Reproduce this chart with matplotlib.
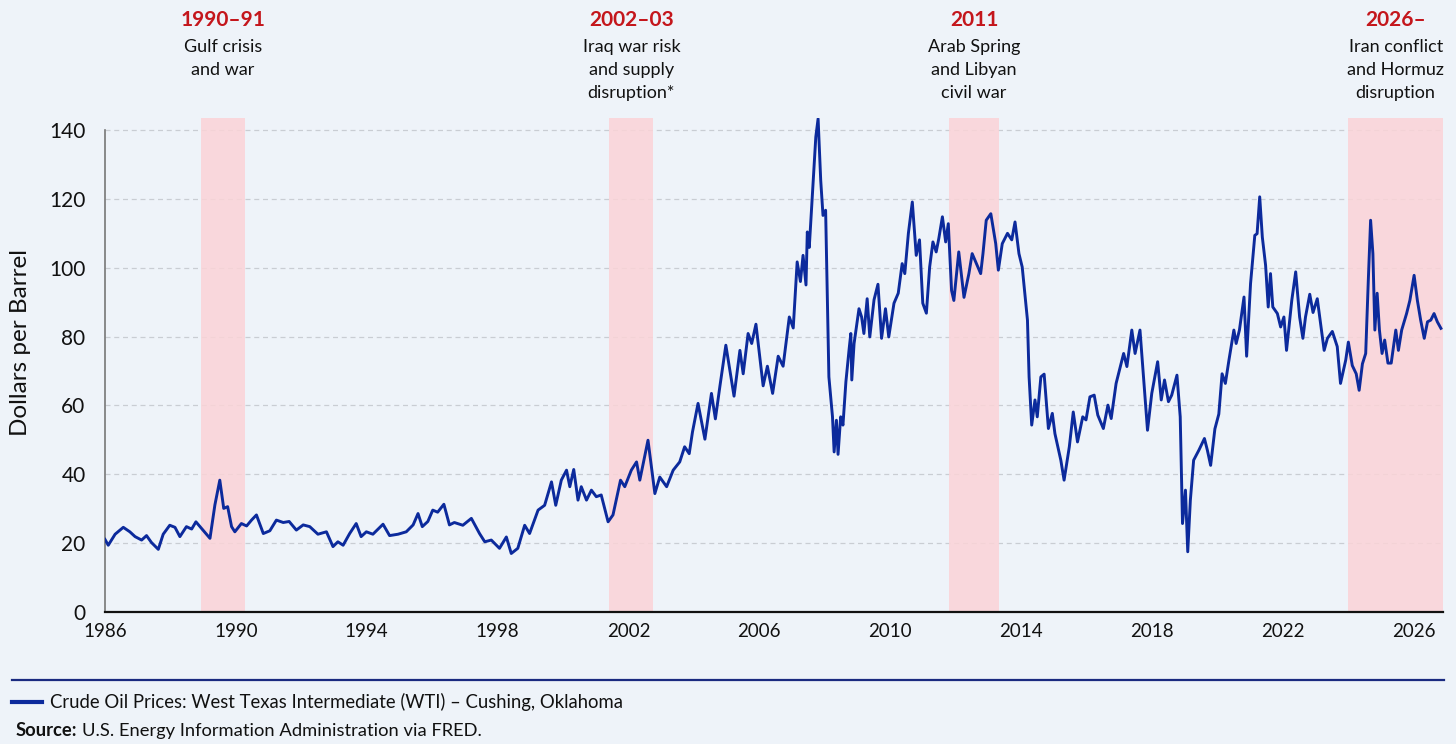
import matplotlib
matplotlib.use("Agg")
import matplotlib.pyplot as plt
from matplotlib.lines import Line2D
from matplotlib.transforms import blended_transform_factory

# WTI price (x = position on the chart's year axis, y = $/barrel)
years = [
    1986.00, 1986.10, 1986.31, 1986.56, 1986.76, 1986.92, 1987.12, 1987.27, 1987.42, 1987.63,
    1987.78, 1987.98, 1988.14, 1988.29, 1988.49, 1988.65, 1988.78, 1988.95, 1989.21, 1989.36,
    1989.51, 1989.63, 1989.75, 1989.87, 1989.97, 1990.17, 1990.33, 1990.48, 1990.63, 1990.84,
    1991.04, 1991.24, 1991.45, 1991.63, 1991.85, 1992.06, 1992.26, 1992.51, 1992.77, 1992.97,
    1993.12, 1993.28, 1993.48, 1993.68, 1993.83, 1993.99, 1994.19, 1994.50, 1994.70, 1994.96,
    1995.21, 1995.42, 1995.57, 1995.70, 1995.87, 1996.02, 1996.17, 1996.36, 1996.53, 1996.68,
    1996.94, 1997.20, 1997.45, 1997.61, 1997.81, 1998.06, 1998.27, 1998.42, 1998.62, 1998.83,
    1998.98, 1999.24, 1999.44, 1999.65, 1999.78, 1999.95, 2000.11, 2000.21, 2000.33, 2000.46,
    2000.56, 2000.72, 2000.87, 2001.02, 2001.17, 2001.38, 2001.53, 2001.76, 2001.89, 2002.09,
    2002.25, 2002.35, 2002.60, 2002.81, 2002.96, 2003.17, 2003.37, 2003.57, 2003.72, 2003.86,
    2003.96, 2004.13, 2004.34, 2004.54, 2004.66, 2004.80, 2004.98, 2005.23, 2005.41, 2005.51,
    2005.66, 2005.77, 2005.90, 2006.12, 2006.25, 2006.41, 2006.58, 2006.73, 2006.92, 2007.04,
    2007.16, 2007.26, 2007.34, 2007.43, 2007.47, 2007.53, 2007.68, 2007.73, 2007.80, 2007.88,
    2007.95, 2008.03, 2008.13, 2008.24, 2008.29, 2008.36, 2008.41, 2008.49, 2008.56, 2008.65,
    2008.75, 2008.80, 2008.83, 2008.90, 2009.05, 2009.13, 2009.20, 2009.30, 2009.38, 2009.51,
    2009.63, 2009.74, 2009.86, 2009.96, 2010.12, 2010.25, 2010.37, 2010.45, 2010.56, 2010.68,
    2010.80, 2010.90, 2011.00, 2011.11, 2011.21, 2011.31, 2011.41, 2011.49, 2011.60, 2011.70,
    2011.78, 2011.88, 2011.95, 2012.10, 2012.26, 2012.41, 2012.51, 2012.64, 2012.77, 2012.84,
    2012.94, 2013.08, 2013.23, 2013.31, 2013.43, 2013.59, 2013.72, 2013.82, 2013.94, 2014.04,
    2014.20, 2014.25, 2014.33, 2014.43, 2014.50, 2014.61, 2014.71, 2014.84, 2014.96, 2015.04,
    2015.22, 2015.32, 2015.48, 2015.60, 2015.73, 2015.89, 2015.99, 2016.11, 2016.24, 2016.35,
    2016.52, 2016.66, 2016.76, 2016.91, 2017.14, 2017.24, 2017.39, 2017.49, 2017.64, 2017.87,
    2018.00, 2018.18, 2018.29, 2018.39, 2018.51, 2018.61, 2018.77, 2018.87, 2018.94, 2019.03,
    2019.10, 2019.18, 2019.28, 2019.44, 2019.61, 2019.70, 2019.80, 2019.93, 2020.05, 2020.15,
    2020.25, 2020.36, 2020.51, 2020.58, 2020.68, 2020.82, 2020.90, 2021.02, 2021.15, 2021.22,
    2021.30, 2021.38, 2021.48, 2021.56, 2021.63, 2021.70, 2021.84, 2021.94, 2022.04, 2022.12,
    2022.28, 2022.40, 2022.52, 2022.62, 2022.70, 2022.83, 2022.93, 2023.06, 2023.16, 2023.27,
    2023.37, 2023.52, 2023.67, 2023.77, 2023.93, 2024.01, 2024.13, 2024.25, 2024.34, 2024.44,
    2024.54, 2024.62, 2024.69, 2024.76, 2024.82, 2024.89, 2024.96, 2025.04, 2025.12, 2025.22,
    2025.32, 2025.39, 2025.46, 2025.54, 2025.64, 2025.79, 2025.89, 2026.02, 2026.12, 2026.22,
    2026.33, 2026.43, 2026.53, 2026.63, 2026.73, 2026.84,
]
prices = [
    21.1, 19.4, 22.6, 24.6, 23.3, 21.9, 20.9, 22.2, 20.2, 18.2,
    22.6, 25.2, 24.6, 21.9, 24.8, 24.1, 26.2, 24.3, 21.4, 31.1,
    38.3, 30.1, 30.6, 24.8, 23.3, 25.7, 25.0, 26.7, 28.2, 22.8,
    23.6, 26.7, 26.0, 26.3, 23.8, 25.3, 24.8, 22.6, 23.3, 19.0,
    20.4, 19.4, 22.8, 25.7, 21.9, 23.3, 22.6, 25.5, 22.2, 22.6,
    23.3, 25.3, 28.6, 24.8, 26.3, 29.6, 29.0, 31.3, 25.3, 26.0,
    25.2, 27.2, 22.8, 20.4, 20.9, 18.5, 21.8, 17.0, 18.5, 25.2,
    22.8, 29.6, 31.0, 37.8, 31.0, 38.3, 41.2, 36.4, 41.4, 32.5,
    36.4, 32.5, 35.4, 33.5, 34.0, 26.2, 28.2, 38.3, 36.4, 41.2,
    43.6, 38.3, 49.9, 34.4, 39.2, 36.4, 41.2, 43.6, 48.0, 46.0,
    52.3, 60.6, 50.2, 63.5, 56.1, 65.7, 77.5, 62.7, 76.0, 69.2,
    80.9, 78.0, 83.6, 65.7, 71.4, 63.5, 74.3, 71.4, 85.7, 82.5,
    101.7, 96.0, 103.6, 95.0, 110.4, 105.9, 130.2, 138.0, 143.3, 125.4,
    115.2, 116.7, 68.3, 56.7, 46.5, 55.7, 45.8, 56.7, 54.3, 66.9,
    76.5, 80.9, 67.4, 78.0, 88.1, 85.7, 80.9, 91.0, 79.9, 90.7,
    95.2, 79.5, 88.1, 79.9, 89.7, 92.6, 101.2, 98.3, 110.0, 119.1,
    103.6, 108.1, 89.7, 86.8, 100.2, 107.5, 104.6, 108.5, 114.8, 107.5,
    112.8, 93.4, 90.5, 104.6, 91.4, 98.3, 104.1, 101.2, 98.3, 104.1,
    113.8, 115.7, 107.0, 99.3, 107.0, 110.0, 108.1, 113.3, 104.1, 100.2,
    84.8, 68.3, 54.3, 61.6, 56.7, 68.3, 69.1, 53.3, 57.7, 51.8,
    44.1, 38.3, 48.0, 58.1, 49.4, 56.7, 55.8, 62.5, 63.0, 57.2,
    53.3, 60.1, 56.2, 66.4, 75.1, 71.3, 81.9, 75.1, 81.9, 52.8,
    63.5, 72.7, 61.6, 67.4, 61.1, 63.0, 68.8, 56.7, 25.7, 35.4,
    17.5, 32.5, 44.1, 47.0, 50.4, 47.0, 42.6, 53.2, 57.5, 69.2,
    66.4, 73.2, 81.9, 78.0, 81.9, 91.5, 74.3, 95.4, 109.4, 109.9,
    120.6, 108.9, 100.7, 88.6, 98.3, 88.6, 86.7, 82.8, 85.7, 76.0,
    90.5, 98.8, 85.7, 79.5, 85.7, 92.3, 87.0, 91.0, 83.8, 76.0,
    79.5, 81.5, 77.1, 66.4, 73.2, 78.4, 71.6, 69.2, 64.4, 72.1,
    75.1, 96.4, 113.8, 104.1, 81.9, 92.6, 81.9, 75.1, 79.0, 72.3,
    72.3, 77.1, 81.9, 76.0, 81.9, 86.7, 90.5, 97.8, 90.5, 84.8,
    79.5, 84.3, 84.8, 86.7, 84.3, 82.4,
]

# shaded episodes
band_starts = [1988.93, 2001.42, 2011.80, 2024.01]
band_ends = [1990.27, 2002.76, 2013.33, 2026.9]
band_titles = ["1990\u201391", "2002\u201303", "2011", "2026\u2013"]
band_notes = [
    "Gulf crisis\nand war",
    "Iraq war risk\nand supply\ndisruption*",
    "Arab Spring\nand Libyan\ncivil war",
    "Iran conflict\nand Hormuz\ndisruption",
]

x_ticks = list(range(1986, 2027, 4))
y_ticks = list(range(0, 141, 20))

plt.rcParams['font.family'] = ['Lato', 'DejaVu Sans']

bg = '#eef3f9'
navy = '#0c2a9c'
fig = plt.figure(figsize=(14.56, 7.44), dpi=100, facecolor=bg)
ax = fig.add_axes([0.0721, 0.1774, 0.9189, 0.664])
ax.set_facecolor(bg)

for s, e in zip(band_starts, band_ends):
    ax.axvspan(s, e, color='#fbd3d7', alpha=0.85, lw=0, zorder=1)

ax.plot(years, prices, color=navy, lw=2.1, zorder=3)

ax.set_xlim(1986, 2026.9)
ax.set_ylim(0, 143.5)
ax.set_xticks(x_ticks)
ax.set_yticks(y_ticks)
ax.tick_params(axis='both', length=0, colors='#111111')
ax.tick_params(axis='x', pad=8, labelsize=13.5)
ax.tick_params(axis='y', pad=14, labelsize=15)
ax.grid(axis='y', color='#c9cdd3', ls=(0, (4, 3)), lw=0.9, zorder=0)
ax.set_axisbelow(True)

for side in ['top', 'right']:
    ax.spines[side].set_visible(False)
ax.spines['left'].set_color('#777777')
ax.spines['left'].set_linewidth(1.2)
ax.spines['left'].set_bounds(0, 140)
ax.spines['bottom'].set_color('#111111')
ax.spines['bottom'].set_linewidth(1.6)
ax.spines['bottom'].set_zorder(4)

ax.set_ylabel("Dollars per Barrel", fontsize=17.5, color='#111111')
ax.yaxis.set_label_coords(-0.055, 0.545)

# episode labels above the plot
trans = blended_transform_factory(ax.transData, fig.transFigure)
for s, e, title, note in zip(band_starts, band_ends, band_titles, band_notes):
    xc = (s + e) / 2
    ax.text(xc, 0.9725, title, transform=trans, ha='center', va='center',
            fontsize=15, fontweight='bold', color='#c4161c')
    ax.text(xc, 0.9475, note, transform=trans, ha='center', va='top',
            fontsize=13, color='#111111', linespacing=1.55)

# rule and legend below the chart
fig.add_artist(Line2D([0.008, 0.992], [0.086, 0.086], transform=fig.transFigure,
                      color='#1a2a80', lw=1.6))
fig.add_artist(Line2D([0.008, 0.029], [0.0565, 0.0565], transform=fig.transFigure,
                      color=navy, lw=3))
fig.text(0.034, 0.0565, "Crude Oil Prices: West Texas Intermediate (WTI) \u2013 Cushing, Oklahoma",
         fontsize=13.35, color='#111111', va='center')

src = fig.text(0.011, 0.0175, "Source:", fontsize=13.2, fontweight='bold', color='#111111', va='center')
renderer = fig.canvas.get_renderer()
bb = src.get_window_extent(renderer=renderer)
x_next = (bb.x1 + 4) / fig.bbox.width
fig.text(x_next, 0.0175, "U.S. Energy Information Administration via FRED.",
         fontsize=13.2, color='#111111', va='center')

fig.savefig("out.png", dpi=100, facecolor=bg)
